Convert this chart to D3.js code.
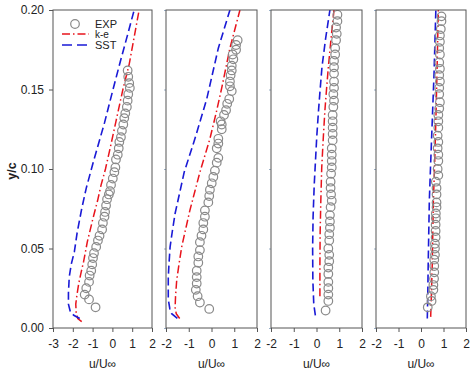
<!DOCTYPE html>
<html><head><meta charset="utf-8">
<script src="https://cdn.jsdelivr.net/npm/d3@7"></script>
<style>body{margin:0;background:#fff}svg text{font-family:"Liberation Sans",Arial,sans-serif}</style>
</head><body><svg id="c" width="474" height="373"></svg>
<script>
// ---------- data ----------
const yTicks = [0.00, 0.05, 0.10, 0.15, 0.20];
const yTickLabels = ["0.00", "0.05", "0.10", "0.15", "0.20"];
const xTicksP1 = [-3, -2, -1, 0, 1, 2];
const xTicksP = [-2, -1, 0, 1, 2];
const xTitle = "u/U\u221e";
const yTitle = "y/c";
const legendLabels = ["EXP", "k-e", "SST"];

// Panel 1
const exp1Y = [0.162,0.158,0.154,0.151,0.147,0.143,0.139,0.135,0.132,0.128,0.124,0.120,0.117,0.113,0.109,0.106,0.101,0.098,0.094,0.090,0.086,0.084,0.081,0.077,0.073,0.070,0.066,0.062,0.058,0.055,0.051,0.047,0.044,0.040,0.036,0.033,0.029,0.025,0.021,0.018,0.013];
const exp1U = [0.77,0.80,0.85,0.88,0.80,0.77,0.73,0.65,0.60,0.55,0.48,0.43,0.35,0.32,0.27,0.18,0.15,0.10,0.02,-0.07,-0.12,-0.18,-0.27,-0.32,-0.37,-0.40,-0.48,-0.52,-0.65,-0.73,-0.82,-0.93,-0.98,-1.02,-1.07,-1.15,-1.18,-1.32,-1.40,-1.18,-0.85];
const ke1Y = [0.004,0.006,0.010,0.015,0.020,0.028,0.035,0.042,0.054,0.069,0.080,0.090,0.100,0.115,0.130,0.150,0.166,0.185,0.200];
const ke1U = [-1.55,-1.75,-1.83,-1.85,-1.80,-1.70,-1.58,-1.45,-1.27,-0.98,-0.75,-0.57,-0.35,-0.08,0.18,0.53,0.85,1.13,1.35];
const sst1Y = [0.006,0.008,0.010,0.015,0.022,0.032,0.040,0.048,0.060,0.075,0.088,0.105,0.129,0.150,0.169,0.185,0.200];
const sst1U = [-1.65,-1.95,-2.12,-2.22,-2.22,-2.18,-2.08,-1.92,-1.78,-1.55,-1.32,-0.95,-0.40,0.03,0.43,0.78,1.10];

// Panel 2
const exp2Y = [0.181,0.178,0.175,0.172,0.169,0.165,0.162,0.159,0.155,0.152,0.149,0.144,0.141,0.137,0.134,0.130,0.128,0.125,0.119,0.116,0.113,0.107,0.104,0.099,0.095,0.091,0.087,0.083,0.079,0.074,0.070,0.066,0.062,0.058,0.054,0.049,0.045,0.041,0.036,0.032,0.028,0.024,0.020,0.016,0.012];
const exp2U = [1.15,1.08,1.08,0.93,0.96,0.89,0.89,0.84,0.81,0.81,0.89,0.78,0.69,0.64,0.55,0.40,0.45,0.45,0.30,0.30,0.23,0.30,0.23,0.15,0.08,0.01,-0.07,-0.10,-0.14,-0.29,-0.29,-0.36,-0.36,-0.44,-0.51,-0.51,-0.58,-0.58,-0.65,-0.65,-0.65,-0.69,-0.61,-0.51,-0.10];
const ke2Y = [0.006,0.009,0.013,0.020,0.030,0.040,0.051,0.062,0.074,0.086,0.098,0.119,0.135,0.151,0.176,0.200];
const ke2U = [-1.40,-1.55,-1.60,-1.58,-1.53,-1.43,-1.31,-1.14,-0.95,-0.73,-0.51,-0.07,0.20,0.45,0.81,1.25];
const sst2Y = [0.006,0.009,0.012,0.018,0.025,0.032,0.040,0.051,0.061,0.072,0.085,0.098,0.119,0.144,0.176,0.200];
const sst2U = [-1.50,-1.75,-1.83,-1.90,-1.90,-1.90,-1.87,-1.82,-1.72,-1.60,-1.40,-1.20,-0.73,-0.21,0.30,0.81];

// Panel 3
const exp3Y = [0.197,0.193,0.189,0.185,0.181,0.176,0.172,0.168,0.164,0.160,0.155,0.151,0.147,0.143,0.139,0.134,0.130,0.126,0.122,0.118,0.113,0.109,0.105,0.101,0.097,0.092,0.088,0.084,0.080,0.076,0.071,0.067,0.063,0.059,0.055,0.050,0.046,0.042,0.038,0.034,0.029,0.025,0.021,0.017,0.011];
const exp3U = [0.92,0.92,0.86,0.89,0.86,0.82,0.82,0.77,0.77,0.77,0.77,0.77,0.74,0.77,0.74,0.71,0.71,0.71,0.71,0.71,0.67,0.67,0.67,0.67,0.64,0.62,0.62,0.64,0.67,0.62,0.59,0.59,0.59,0.56,0.56,0.52,0.56,0.56,0.52,0.52,0.52,0.52,0.52,0.52,0.40];
const ke3Y = [0.020,0.040,0.060,0.080,0.101,0.120,0.137,0.150,0.164,0.182,0.200];
const ke3U = [0.15,0.15,0.16,0.19,0.23,0.30,0.37,0.44,0.52,0.64,0.77];
const sst3Y = [0.008,0.015,0.030,0.050,0.070,0.090,0.101,0.120,0.137,0.150,0.164,0.182,0.200];
const sst3U = [-0.05,-0.12,-0.16,-0.17,-0.15,-0.10,-0.06,0.01,0.09,0.16,0.24,0.40,0.59];

// Panel 4
const exp4Y = [0.196,0.193,0.188,0.184,0.180,0.176,0.172,0.167,0.163,0.159,0.155,0.151,0.147,0.142,0.138,0.134,0.130,0.126,0.121,0.117,0.113,0.109,0.105,0.100,0.096,0.092,0.088,0.084,0.079,0.076,0.072,0.069,0.065,0.061,0.057,0.053,0.050,0.046,0.043,0.039,0.035,0.031,0.027,0.024,0.020,0.017,0.013];
const exp4U = [0.91,0.91,0.88,0.84,0.84,0.81,0.84,0.81,0.84,0.81,0.84,0.81,0.81,0.84,0.81,0.77,0.77,0.77,0.74,0.77,0.74,0.77,0.77,0.74,0.77,0.66,0.69,0.69,0.69,0.69,0.66,0.66,0.65,0.65,0.65,0.62,0.62,0.62,0.59,0.59,0.59,0.58,0.55,0.55,0.44,0.47,0.30];
const ke4Y = [0.007,0.020,0.040,0.080,0.100,0.130,0.160,0.200];
const ke4U = [0.43,0.46,0.50,0.55,0.60,0.66,0.71,0.77];
const sst4Y = [0.006,0.020,0.040,0.080,0.100,0.130,0.160,0.200];
const sst4U = [0.28,0.30,0.32,0.37,0.42,0.50,0.58,0.66];

// ---------- layout ----------
const panels = [
  {x0: 53,  x1: 152, dom: [-3, 2], ticks: xTicksP1, exp: [exp1U, exp1Y], ke: [ke1U, ke1Y], sst: [sst1U, sst1Y]},
  {x0: 166, x1: 257, dom: [-2, 2], ticks: xTicksP,  exp: [exp2U, exp2Y], ke: [ke2U, ke2Y], sst: [sst2U, sst2Y]},
  {x0: 271, x1: 362, dom: [-2, 2], ticks: xTicksP,  exp: [exp3U, exp3Y], ke: [ke3U, ke3Y], sst: [sst3U, sst3Y]},
  {x0: 376, x1: 466, dom: [-2, 2], ticks: xTicksP,  exp: [exp4U, exp4Y], ke: [ke4U, ke4Y], sst: [sst4U, sst4Y]}
];
const topY = 10, bottomY = 328;
const frameCol = "#555", textCol = "#222";
const redCol = "#e8141c", blueCol = "#1a1ad6", circCol = "#8a8a8a";

const svg = d3.select("#c");
const y = d3.scaleLinear().domain([0, 0.2]).range([bottomY, topY]);
const zip = (a, b) => a.map((v, i) => [v, b[i]]);

panels.forEach((p, pi) => {
  const x = d3.scaleLinear().domain(p.dom).range([p.x0, p.x1]);
  const g = svg.append("g");
  const clipId = "clip" + pi;
  svg.append("clipPath").attr("id", clipId).append("rect")
    .attr("x", p.x0).attr("y", topY).attr("width", p.x1 - p.x0).attr("height", bottomY - topY);

  const line = d3.line().x(d => x(d[0])).y(d => y(d[1]));
  const plot = g.append("g").attr("clip-path", `url(#${clipId})`);
  plot.append("path").datum(zip(p.ke[0], p.ke[1])).attr("d", line)
    .attr("fill", "none").attr("stroke", redCol).attr("stroke-width", 1.5)
    .attr("stroke-dasharray", "8,3,1.5,3");
  plot.append("path").datum(zip(p.sst[0], p.sst[1])).attr("d", line)
    .attr("fill", "none").attr("stroke", blueCol).attr("stroke-width", 1.6)
    .attr("stroke-dasharray", "8,4");
  plot.selectAll("circle.e").data(zip(p.exp[0], p.exp[1])).enter().append("circle")
    .attr("cx", d => x(d[0])).attr("cy", d => y(d[1])).attr("r", 4.3)
    .attr("fill", "none").attr("stroke", circCol).attr("stroke-width", 1.2);

  // x axis
  const xa = g.append("g").attr("transform", `translate(0,${bottomY})`)
    .call(d3.axisBottom(x).tickValues(p.ticks).tickSize(4).tickSizeOuter(0).tickPadding(7).tickFormat(d => String(d)));
  xa.select(".domain").remove();
  xa.selectAll("line").attr("stroke", frameCol);
  xa.selectAll("text").attr("fill", textCol).attr("font-size", 12).attr("font-family", "Liberation Sans, Arial, sans-serif");

  // y axis
  const ya = g.append("g").attr("transform", `translate(${p.x0},0)`)
    .call(d3.axisLeft(y).tickValues(yTicks).tickSize(pi === 0 ? 4 : 2).tickPadding(5)
      .tickFormat((d, i) => pi === 0 ? yTickLabels[i] : ""));
  ya.select(".domain").remove();
  ya.selectAll("line").attr("stroke", pi === 0 ? frameCol : "#9ab0c8");
  ya.selectAll("text").attr("fill", textCol).attr("font-size", 12).attr("font-family", "Liberation Sans, Arial, sans-serif");

  // frame
  g.append("rect").attr("x", p.x0).attr("y", topY).attr("width", p.x1 - p.x0).attr("height", bottomY - topY)
    .attr("fill", "none").attr("stroke", frameCol).attr("stroke-width", 1);

  // x title
  g.append("text").attr("x", (p.x0 + p.x1) / 2).attr("y", 368).attr("text-anchor", "middle")
    .attr("font-size", 12).attr("fill", textCol).text(xTitle);
});

// y title
svg.append("text").attr("transform", "translate(16,171) rotate(-90)").attr("text-anchor", "middle")
  .attr("font-size", 12.5).attr("font-weight", "bold").attr("fill", textCol).text(yTitle);

// legend
const lg = svg.append("g");
const lx0 = 62, lx1 = 89, ltx = 95;
const lys = [24, 34, 45];
lg.append("circle").attr("cx", 75).attr("cy", lys[0]).attr("r", 4.3)
  .attr("fill", "none").attr("stroke", circCol).attr("stroke-width", 1.2);
lg.append("line").attr("x1", lx0).attr("x2", lx1).attr("y1", lys[1]).attr("y2", lys[1])
  .attr("stroke", redCol).attr("stroke-width", 1.5).attr("stroke-dasharray", "8,3,1.5,3");
lg.append("line").attr("x1", lx0).attr("x2", lx1).attr("y1", lys[2]).attr("y2", lys[2])
  .attr("stroke", blueCol).attr("stroke-width", 1.6).attr("stroke-dasharray", "10,5");
legendLabels.forEach((t, i) => {
  lg.append("text").attr("x", ltx).attr("y", lys[i] + 4).attr("font-size", i === 1 ? 10 : 11)
    .attr("fill", textCol).text(t);
});
</script></body></html>
